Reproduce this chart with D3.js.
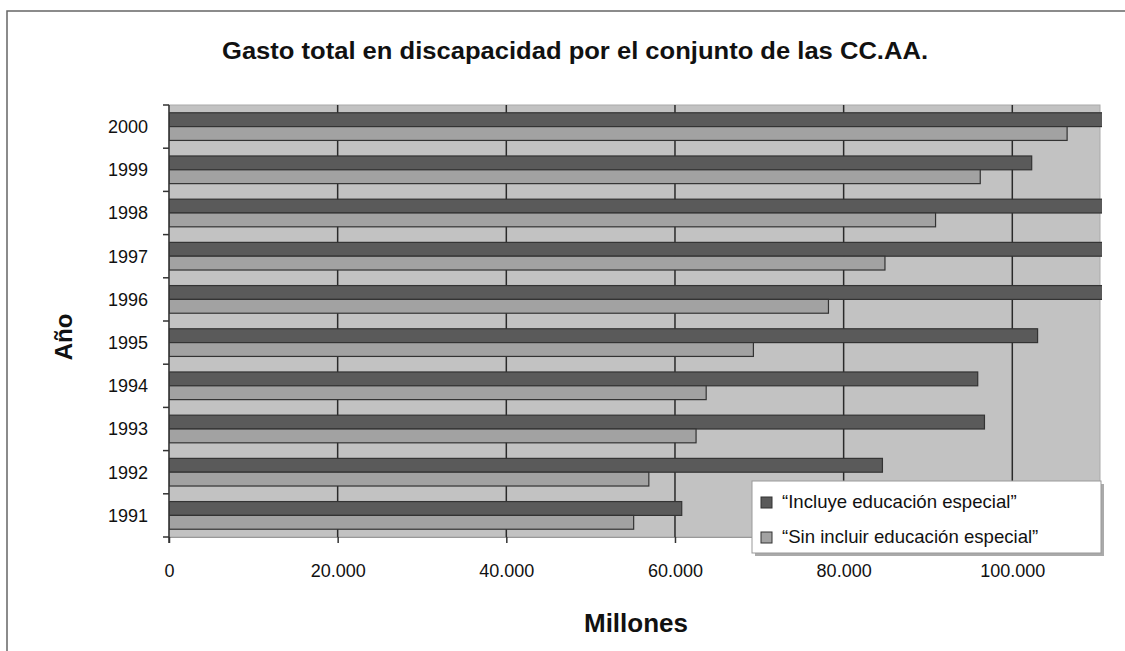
<!DOCTYPE html>
<html>
<head>
<meta charset="utf-8">
<script src="https://cdn.jsdelivr.net/npm/d3@7"></script>
<style>
  body { margin: 0; background: #fff; }
  svg { display: block; font-family: "Liberation Sans", Arial, sans-serif; }
</style>
</head>
<body>
<div id="chart"></div>
<script>
// Data (millones), top row first
const years = ["2000", "1999", "1998", "1997", "1996", "1995", "1994", "1993", "1992", "1991"];
const incluye = [114000, 102300, 112500, 111500, 111000, 103000, 95900, 96700, 84600, 60800];
const sinIncluir = [106500, 96200, 90900, 84900, 78200, 69300, 63700, 62500, 56900, 55100];
const seriesNames = ["\u201cIncluye educación especial\u201d", "\u201cSin incluir educación especial\u201d"];
const xTicks = [0, 20000, 40000, 60000, 80000, 100000];

const width = 1125;
const height = 651;

const svg = d3.select("#chart")
    .append("svg")
    .attr("width", width)
    .attr("height", height);

// Plot area
const plotLeft = 169, plotRight = 1100, plotTop = 105, plotBottom = 537;

const x = d3.scaleLinear().domain([0, 110400]).range([plotLeft, plotRight]);
const y = d3.scaleBand().domain(years).range([plotTop, plotBottom]).paddingInner(0.36).paddingOuter(0.18);
const sub = d3.scaleBand().domain([0, 1]).range([0, y.bandwidth()]);

const locale = d3.formatLocale({ decimal: ",", thousands: ".", grouping: [3], currency: ["", ""] });
const fmt = locale.format(",.0f");

const colors = ["#5a5a5a", "#a2a2a2"];

// Outer frame (only left and top edges are visible)
svg.append("path")
    .attr("d", `M7,${height}V11H${width}`)
    .attr("fill", "none")
    .attr("stroke", "#666")
    .attr("stroke-width", 1.5);

// Title
svg.append("text")
    .attr("x", 575)
    .attr("y", 59)
    .attr("text-anchor", "middle")
    .attr("font-size", 23)
    .attr("font-weight", "bold")
    .attr("fill", "#111")
    .attr("textLength", 706)
    .attr("lengthAdjust", "spacingAndGlyphs")
    .text("Gasto total en discapacidad por el conjunto de las CC.AA.");

// Background of plot
svg.append("rect")
    .attr("x", plotLeft)
    .attr("y", plotTop)
    .attr("width", plotRight - plotLeft)
    .attr("height", plotBottom - plotTop)
    .attr("fill", "#c2c2c2")
    .attr("stroke", "#aaa")
    .attr("stroke-width", 1);

// Vertical gridlines
svg.append("g")
    .selectAll("line")
    .data(xTicks.slice(1))
    .join("line")
    .attr("x1", d => x(d))
    .attr("x2", d => x(d))
    .attr("y1", plotTop)
    .attr("y2", plotBottom)
    .attr("stroke", "#2a2a2a")
    .attr("stroke-width", 1.5);

// Bars
svg.append("clipPath")
    .attr("id", "clip")
    .append("rect")
    .attr("x", plotLeft)
    .attr("y", plotTop - 5)
    .attr("width", plotRight - plotLeft + 2)
    .attr("height", plotBottom - plotTop + 10);

const rows = years.map((yr, i) => ({ year: yr, values: [incluye[i], sinIncluir[i]] }));

const group = svg.append("g")
    .attr("clip-path", "url(#clip)")
    .selectAll("g")
    .data(rows)
    .join("g")
    .attr("transform", d => `translate(0,${y(d.year)})`);

group.selectAll("rect")
    .data(d => d.values.map((v, k) => ({ v, k })))
    .join("rect")
    .attr("x", x(0))
    .attr("y", d => sub(d.k))
    .attr("width", d => x(d.v) - x(0))
    .attr("height", sub.bandwidth())
    .attr("fill", d => colors[d.k])
    .attr("stroke", "#333")
    .attr("stroke-width", 1.2);

// X axis
const xAxis = svg.append("g")
    .attr("transform", `translate(0,${plotBottom})`)
    .call(d3.axisBottom(x).tickValues(xTicks).tickFormat(fmt).tickSize(6).tickPadding(21));
xAxis.select(".domain").attr("stroke", "#999");
xAxis.selectAll(".tick line").attr("stroke", "#333").attr("stroke-width", 1.5);
xAxis.selectAll("text")
    .attr("font-size", 18)
    .attr("font-family", "Liberation Sans, Arial, sans-serif")
    .attr("fill", "#111");

// Y axis: line, ticks on category boundaries, labels in the middle
const step = y.step();
const bounds = years.map(yr => y(yr) - step * 0.18).concat([plotBottom]);

svg.append("line")
    .attr("x1", plotLeft).attr("x2", plotLeft)
    .attr("y1", plotTop).attr("y2", plotBottom + 6)
    .attr("stroke", "#333")
    .attr("stroke-width", 1.5);

svg.append("g")
    .selectAll("line")
    .data(bounds)
    .join("line")
    .attr("x1", plotLeft - 6)
    .attr("x2", plotLeft)
    .attr("y1", d => d)
    .attr("y2", d => d)
    .attr("stroke", "#333")
    .attr("stroke-width", 1.5);

svg.append("g")
    .selectAll("text")
    .data(years)
    .join("text")
    .attr("x", 148)
    .attr("y", d => y(d) + y.bandwidth() / 2)
    .attr("dy", "0.36em")
    .attr("text-anchor", "end")
    .attr("font-size", 18)
    .attr("fill", "#111")
    .text(d => d);

// Axis titles
svg.append("text")
    .attr("transform", "translate(72,337) rotate(-90)")
    .attr("text-anchor", "middle")
    .attr("font-size", 24)
    .attr("font-weight", "bold")
    .attr("fill", "#111")
    .text("Año");

svg.append("text")
    .attr("x", 636)
    .attr("y", 632)
    .attr("text-anchor", "middle")
    .attr("font-size", 26)
    .attr("font-weight", "bold")
    .attr("fill", "#111")
    .text("Millones");

// Legend
const legend = svg.append("g").attr("transform", "translate(752,481)");
legend.append("rect")
    .attr("x", 3).attr("y", 3)
    .attr("width", 349).attr("height", 72)
    .attr("fill", "#aaa");
legend.append("rect")
    .attr("width", 349).attr("height", 72)
    .attr("fill", "#fff")
    .attr("stroke", "#999");

const item = legend.selectAll("g.item")
    .data(seriesNames)
    .join("g")
    .attr("class", "item")
    .attr("transform", (d, i) => `translate(0,${16 + i * 35})`);

item.append("rect")
    .attr("x", 9).attr("y", 0)
    .attr("width", 11).attr("height", 11)
    .attr("fill", (d, i) => colors[i])
    .attr("stroke", "#333");

item.append("text")
    .attr("x", 30)
    .attr("y", 11)
    .attr("font-size", 18.6)
    .attr("fill", "#111")
    .text(d => d);
</script>
</body>
</html>
